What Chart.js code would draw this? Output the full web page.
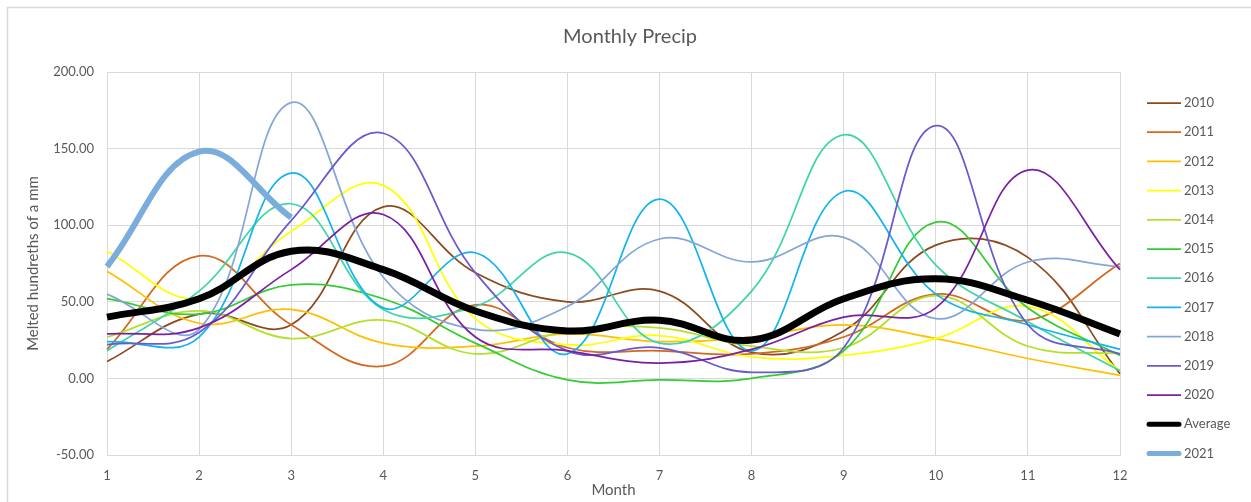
<!DOCTYPE html>
<html>
<head>
<meta charset="utf-8">
<title>Monthly Precip</title>
<script src="https://cdn.jsdelivr.net/npm/chart.js@4.4.0/dist/chart.umd.min.js"></script>
<style>
  html, body { margin: 0; padding: 0; background: #ffffff; }
  #wrap { width: 1251px; height: 502px; position: relative; }
</style>
</head>
<body>
<div id="wrap"><canvas id="precipChart" width="1251" height="502"></canvas></div>
<script>
// Month labels (x axis)
const months = ['1', '2', '3', '4', '5', '6', '7', '8', '9', '10', '11', '12'];

// Melted hundreths of a mm, per year
const y2010 = [11, 42, 35, 112, 69, 50, 57, 17, 31, 87, 79, 3];
const y2011 = [19, 80, 35, 8, 48, 20, 18, 16, 27, 55, 38, 75];
const y2012 = [70, 36, 45, 23, 21, 29, 24, 27, 35, 26, 13, 2];
const y2013 = [83, 52, 96, 126, 39, 22, 28, 14, 15, 26, 47, 5];
const y2014 = [27, 44, 26, 38, 16, 31, 33, 21, 20, 54, 21, 16];
const y2015 = [52, 42, 61, 52, 23, -1, -1, 0, 18, 102, 46, 15];
const y2016 = [18, 57, 114, 45, 47, 82, 23, 57, 159, 74, 37, 5];
const y2017 = [24, 27, 134, 46, 82, 16, 117, 18, 122, 55, 35, 19];
const y2018 = [55, 32, 180, 66, 32, 47, 91, 76, 92, 39, 76, 73];
const y2019 = [22, 30, 103, 160, 69, 18, 20, 4, 20, 165, 35, 16];
const y2020 = [29, 33, 71, 107, 27, 18, 10, 19, 40, 46, 136, 71];
const average = [40, 52, 83, 71, 44, 31, 38, 25, 52, 65, 51, 29];
const y2021 = [73, 148, 105];

// Y axis range
const yMin = -50;
const yMax = 200;
const yStep = 50;

const chartTitle = 'Monthly Precip';
const textColor = '#595959';
const gridColor = '#d9d9d9';
const fontFamily = 'Lato, "Open Sans", sans-serif';

const series = [
    { label: '2010', data: y2010, color: '#8c4a1e', width: 1.75 },
    { label: '2011', data: y2011, color: '#d2691e', width: 1.75 },
    { label: '2012', data: y2012, color: '#ffc000', width: 1.75 },
    { label: '2013', data: y2013, color: '#ffff00', width: 1.75 },
    { label: '2014', data: y2014, color: '#b4e02a', width: 1.75 },
    { label: '2015', data: y2015, color: '#33cc33', width: 1.75 },
    { label: '2016', data: y2016, color: '#3fd6a6', width: 1.75 },
    { label: '2017', data: y2017, color: '#14b4ec', width: 1.75 },
    { label: '2018', data: y2018, color: '#84a6d9', width: 1.75 },
    { label: '2019', data: y2019, color: '#6a5acd', width: 1.75 },
    { label: '2020', data: y2020, color: '#7a1fa2', width: 1.75 },
    { label: 'Average', data: average, color: '#000000', width: 7 },
    { label: '2021', data: y2021, color: '#7aaddc', width: 6 }
];

// Outer frame and centred title, like the spreadsheet chart object
const framePlugin = {
    id: 'frame',
    beforeDraw(chart) {
        const ctx = chart.ctx;
        ctx.save();
        ctx.fillStyle = '#ffffff';
        ctx.fillRect(0, 0, chart.width, chart.height);
        ctx.strokeStyle = gridColor;
        ctx.lineWidth = 1.5;
        ctx.beginPath();
        ctx.moveTo(7.5, chart.height);
        ctx.lineTo(7.5, 7.5);
        ctx.lineTo(chart.width, 7.5);
        ctx.stroke();
        ctx.fillStyle = textColor;
        ctx.font = '20px ' + fontFamily;
        ctx.textAlign = 'center';
        ctx.textBaseline = 'middle';
        ctx.fillText(chartTitle, 630, 37);
        ctx.restore();
    }
};

// Legend on the right, drawn as line samples
const lineLegend = {
    id: 'lineLegend',
    afterDraw(chart) {
        const ctx = chart.ctx;
        const x0 = chart.chartArea.right + 27;
        const top = 103;
        const gap = 29.2;
        ctx.save();
        ctx.font = '13px ' + fontFamily;
        ctx.textBaseline = 'middle';
        chart.data.datasets.forEach((ds, i) => {
            const y = top + i * gap;
            const thick = ds.borderWidth > 3;
            ctx.strokeStyle = ds.borderColor;
            ctx.lineWidth = Math.min(ds.borderWidth, 5);
            ctx.lineCap = thick ? 'round' : 'butt';
            ctx.beginPath();
            ctx.moveTo(x0 + (thick ? 2 : 0), y);
            ctx.lineTo(x0 + 34 - (thick ? 2 : 0), y);
            ctx.stroke();
            ctx.fillStyle = textColor;
            ctx.fillText(ds.label, x0 + 37, y);
        });
        ctx.restore();
    }
};

const ctx = document.getElementById('precipChart').getContext('2d');
const precipChart = new Chart(ctx, {
    type: 'line',
    data: {
        labels: months,
        datasets: series.map((s, i) => ({
            label: s.label,
            data: s.data,
            borderColor: s.color,
            backgroundColor: s.color,
            borderWidth: s.width,
            pointRadius: 0,
            tension: 0.4,
            fill: false,
            order: series.length - i
        }))
    },
    options: {
        responsive: false,
        animation: false,
        layout: {
            padding: { left: 8, right: 131, top: 72, bottom: 2 }
        },
        plugins: {
            legend: { display: false },
            tooltip: { enabled: false },
            title: { display: false }
        },
        scales: {
            x: {
                type: 'category',
                offset: false,
                grid: { color: gridColor, drawTicks: false, offset: false },
                border: { color: gridColor },
                ticks: {
                    color: textColor,
                    font: { family: fontFamily, size: 13 },
                    padding: 13,
                    maxRotation: 0,
                    autoSkip: false
                },
                title: {
                    display: true,
                    text: 'Month',
                    color: textColor,
                    font: { family: fontFamily, size: 15 },
                    padding: { top: 0, bottom: 1 }
                },
                afterFit(scale) { scale.height = 45; }
            },
            y: {
                min: yMin,
                max: yMax,
                grid: { color: gridColor, drawTicks: false },
                border: { color: gridColor },
                ticks: {
                    stepSize: yStep,
                    color: textColor,
                    font: { family: fontFamily, size: 13 },
                    padding: 13,
                    callback: v => v.toFixed(2)
                },
                title: {
                    display: true,
                    text: 'Melted hundreths of a mm',
                    color: textColor,
                    font: { family: fontFamily, size: 15 },
                    padding: { top: 16, bottom: 0 }
                },
                afterFit(scale) { scale.width = 99; }
            }
        }
    },
    plugins: [framePlugin, lineLegend]
});
</script>
</body>
</html>
